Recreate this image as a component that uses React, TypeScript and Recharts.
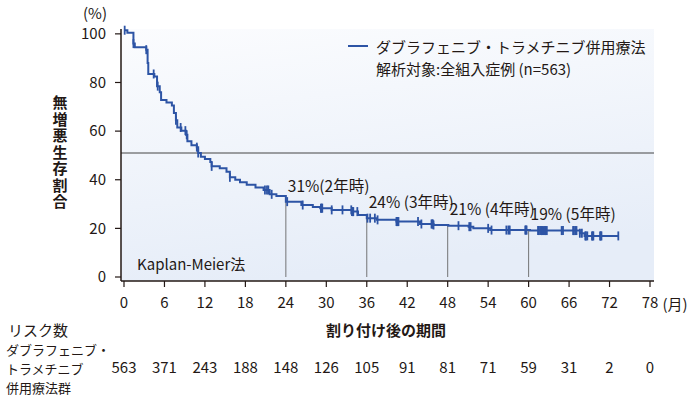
import React from 'react';
import { ComposedChart, Line, Scatter, XAxis, YAxis, ReferenceLine, CartesianGrid } from 'recharts';

// Kaplan-Meier step curve (months, % progression-free)
const kmMonths = [0, 0.5, 1.4, 1.6, 3.3, 3.5, 3.6, 4.5, 4.9, 5.3, 5.5, 6.3, 7.1, 7.4, 7.7, 7.9, 8.5, 9.2, 9.4, 10.0, 10.8, 11.0, 11.4, 12.0, 12.8, 13.0, 14.2, 15.2, 15.7, 16.5, 17.2, 18.2, 19.5, 20.7, 21.6, 22.6, 24.0, 26.3, 28.0, 29.1, 30.8, 33.8, 34.7, 36.0, 37.5, 40.4, 43.9, 45.9, 48.1, 51.1, 51.8, 54.3, 60.2, 67.6, 68.3, 73.3];
const kmSurv = [101.5, 100.5, 96, 94.5, 93.5, 88, 83.5, 82.5, 78.5, 76, 72.8, 71.8, 70.5, 67.5, 64.5, 61.5, 60.2, 58.5, 55.8, 54.2, 53.4, 51.0, 49.5, 48.5, 47.3, 45.5, 44.7, 43.3, 41.0, 40.0, 39.0, 37.9, 36.8, 35.8, 34.0, 33.3, 31.0, 29.6, 28.8, 28.3, 27.6, 26.9, 25.5, 24.2, 23.5, 22.8, 21.8, 21.4, 21.1, 20.7, 20.0, 19.3, 19.1, 18.0, 16.9, 16.9];

// censored observations (months)
const censorMonths = [0.1, 1.4, 3.3, 4.4, 5.0, 7.7, 8.4, 9.1, 9.3, 10.8, 11.0, 13.0, 15.7, 20.9, 21.2, 21.4, 21.9, 24.2,
  26.5, 29.2, 29.3, 29.4, 30.8, 32.4, 33.7, 33.8, 33.9, 34.0, 34.6, 36.1, 36.5, 37.2, 37.6, 40.4, 40.5, 40.6, 40.7, 43.6, 44.1,
  45.6, 45.7, 45.8, 45.9, 49.6, 51.2, 51.4, 54.0, 54.5, 56.7, 57.0, 57.2, 59.5, 59.6, 59.7, 61.4, 61.5, 61.7, 61.9, 62.0, 62.2, 62.4, 62.5, 62.7,
  64.9, 65.1, 66.6, 66.7, 66.9, 67.1, 67.6, 67.9, 68.4, 68.5, 68.7, 69.4, 69.5, 69.6, 70.6, 70.7, 70.8, 73.3];

const annotMonths = [24, 36, 48, 60];
const annotLabels = ['31%(2年時)', '24% (3年時)', '21% (4年時)', '19% (5年時)'];

const xTicks = [0, 6, 12, 18, 24, 30, 36, 42, 48, 54, 60, 66, 72, 78];
const yTicks = [0, 20, 40, 60, 80, 100];
const riskCounts = [563, 371, 243, 188, 148, 126, 105, 91, 81, 71, 59, 31, 2, 0];
const riskGroupLines = ['ダブラフェニブ・', 'トラメチニブ', '併用療法群'];

const medianLine = 51;

const BLUE = '#2d54a5';
const TXT = '#231815';
const FONT = "'Noto Sans CJK JP', 'Noto Sans', sans-serif";

const kmAt = (m: number) => {
  let v = kmSurv[0];
  for (let i = 0; i < kmMonths.length; i++) if (kmMonths[i] <= m) v = kmSurv[i];
  return v;
};

const kmData = kmMonths.map((m, i) => ({ month: m, surv: kmSurv[i] }));
const censorData = censorMonths.map((m) => ({ month: m, surv: kmAt(m) }));
const annotData = annotMonths.map((m, i) => ({ month: m, surv: kmAt(m), label: annotLabels[i] }));
const riskData = xTicks.map((m, i) => ({ month: m, surv: 0, n: riskCounts[i] }));

const CensorMark = (p: any) => (
  <line x1={p.cx} x2={p.cx} y1={p.cy - 4.5} y2={p.cy + 4.5} stroke={BLUE} strokeWidth={1.8} />
);

const AnnotLabel = (p: any) => (
  <text x={p.cx + 2} y={p.cy - 17} fontSize={15.5} fill={TXT} dominantBaseline="central">
    {p.payload.label}
  </text>
);

const Nothing = () => <g />;

export default function App() {
  return (
    <div style={{ position: 'absolute', left: 0, top: 0, width: 700, height: 399, background: '#fff', fontFamily: FONT }}>
      <ComposedChart width={700} height={399} margin={{ top: 29, right: 46, left: 60, bottom: 0 }}>
        <defs>
          <linearGradient id="plotbg" x1="0" y1="0" x2="0.25" y2="1">
            <stop offset="0%" stopColor="#fbfcfe" />
            <stop offset="100%" stopColor="#e6edf8" />
          </linearGradient>
        </defs>
        <CartesianGrid horizontal={false} vertical={false} fill="url(#plotbg)" />
        <XAxis
          xAxisId={0}
          type="number"
          dataKey="month"
          domain={[0, 78]}
          ticks={xTicks}
          padding={{ left: 3, right: 4 }}
          height={40}
          tickSize={6}
          tickMargin={10}
          axisLine={{ stroke: TXT, strokeWidth: 1.5 }}
          tickLine={{ stroke: TXT, strokeWidth: 1.2 }}
          tick={{ fontSize: 15, fill: TXT }}
          interval={0}
        />
        <XAxis
          xAxisId="risk"
          type="number"
          dataKey="month"
          domain={[0, 78]}
          ticks={xTicks}
          padding={{ left: 3, right: 4 }}
          height={78}
          tickSize={0}
          tickMargin={41}
          axisLine={false}
          tickLine={false}
          tick={{ fontSize: 15, fill: TXT }}
          tickFormatter={(v: number) => String(riskCounts[xTicks.indexOf(v)])}
          interval={0}
        />
        <YAxis
          type="number"
          dataKey="surv"
          domain={[0, 102]}
          ticks={yTicks}
          padding={{ top: 0, bottom: 4 }}
          width={61}
          tickSize={6}
          tickMargin={9}
          axisLine={{ stroke: TXT, strokeWidth: 1.5 }}
          tickLine={{ stroke: TXT, strokeWidth: 1.2 }}
          tick={{ fontSize: 15, fill: TXT }}
          interval={0}
        />
        <ReferenceLine y={medianLine} stroke="#444" strokeWidth={1} />
        {annotMonths.map((m) => (
          <ReferenceLine key={m} segment={[{ x: m, y: 0 }, { x: m, y: kmAt(m) }]} stroke="#666" strokeWidth={0.9} />
        ))}
        <Line data={kmData} dataKey="surv" type="stepAfter" stroke={BLUE} strokeWidth={2} dot={false} isAnimationActive={false} />
        <Scatter data={censorData} dataKey="surv" shape={CensorMark} isAnimationActive={false} />
        <Scatter data={annotData} dataKey="surv" shape={AnnotLabel} isAnimationActive={false} />
        <Scatter xAxisId="risk" data={riskData} dataKey="surv" shape={Nothing} isAnimationActive={false} />

        {/* texts */}
        <text x={95} y={12} fontSize={15} fill={TXT} textAnchor="middle" dominantBaseline="central">(%)</text>
        <text x={60} y={95} fontSize={15} fontWeight="bold" fill={TXT} letterSpacing={1.5} style={{ writingMode: 'vertical-rl' }}>
          無増悪生存割合
        </text>
        <text x={675} y={303} fontSize={15} fill={TXT} textAnchor="middle" dominantBaseline="central">(月)</text>
        <text x={386} y={329} fontSize={15} fontWeight="bold" fill={TXT} textAnchor="middle" dominantBaseline="central">割り付け後の期間</text>
        <text x={8} y={329} fontSize={15} fill={TXT} dominantBaseline="central">リスク数</text>
        {riskGroupLines.map((s, i) => (
          <text key={i} x={6} y={349 + i * 19} fontSize={13} fill={TXT} dominantBaseline="central">{s}</text>
        ))}
        <text x={137} y={263} fontSize={15} fill={TXT} dominantBaseline="central">Kaplan-Meier法</text>
        <line x1={348} x2={368} y1={46} y2={46} stroke={BLUE} strokeWidth={2} />
        <text x={376} y={46} fontSize={15} fill={TXT} dominantBaseline="central">ダブラフェニブ・トラメチニブ併用療法</text>
        <text x={376} y={68} fontSize={15} fill={TXT} dominantBaseline="central">解析対象:全組入症例 (n=563)</text>
      </ComposedChart>
    </div>
  );
}
